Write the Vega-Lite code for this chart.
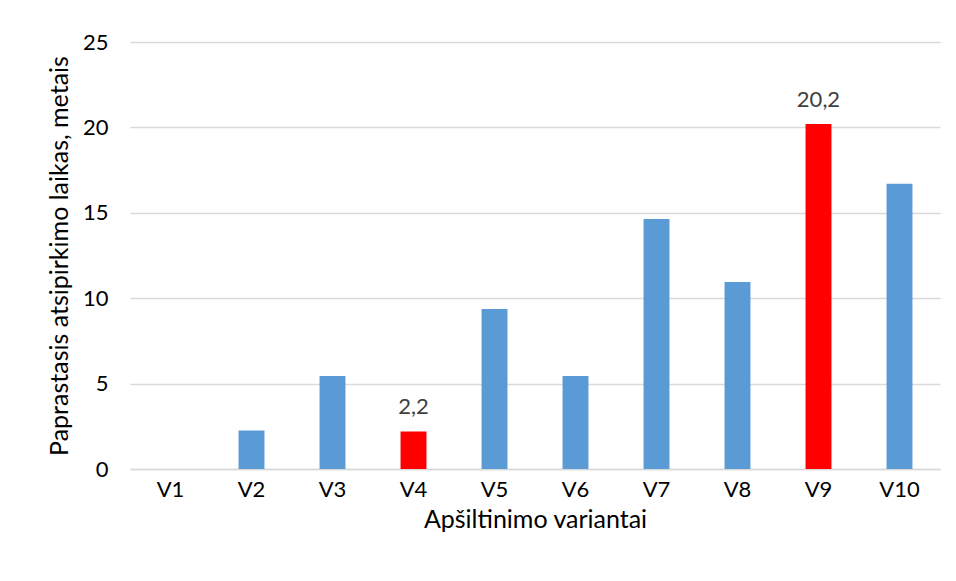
{
  "$schema": "https://vega.github.io/schema/vega-lite/v6.json",
  "width": 810,
  "height": 427,
  "autosize": "none",
  "padding": {"left": 130, "top": 42, "right": 16, "bottom": 112},
  "background": "white",
  "data": {
    "values": [
      {"variantas": "V1", "laikas": 0, "pazymetas": "ne", "zyme": ""},
      {"variantas": "V2", "laikas": 2.25, "pazymetas": "ne", "zyme": ""},
      {"variantas": "V3", "laikas": 5.45, "pazymetas": "ne", "zyme": ""},
      {"variantas": "V4", "laikas": 2.2, "pazymetas": "taip", "zyme": "2,2"},
      {"variantas": "V5", "laikas": 9.37, "pazymetas": "ne", "zyme": ""},
      {"variantas": "V6", "laikas": 5.45, "pazymetas": "ne", "zyme": ""},
      {"variantas": "V7", "laikas": 14.63, "pazymetas": "ne", "zyme": ""},
      {"variantas": "V8", "laikas": 10.95, "pazymetas": "ne", "zyme": ""},
      {"variantas": "V9", "laikas": 20.2, "pazymetas": "taip", "zyme": "20,2"},
      {"variantas": "V10", "laikas": 16.7, "pazymetas": "ne", "zyme": ""}
    ]
  },
  "encoding": {
    "x": {
      "field": "variantas",
      "type": "nominal",
      "sort": null,
      "scale": {"paddingInner": 0.68, "paddingOuter": 0.34},
      "axis": {
        "title": "Apšiltinimo variantai",
        "labelAngle": 0,
        "ticks": false,
        "domainColor": "#D9D9D9",
        "domainWidth": 1.5,
        "labelPadding": 10,
        "titlePadding": 7
      }
    },
    "y": {
      "field": "laikas",
      "type": "quantitative",
      "scale": {"domain": [0, 25]},
      "axis": {
        "title": "Paprastasis atsipirkimo laikas, metais",
        "values": [0, 5, 10, 15, 20, 25],
        "domain": false,
        "ticks": false,
        "gridColor": "#D9D9D9",
        "gridWidth": 1.5,
        "labelPadding": 22,
        "titlePadding": 10
      }
    }
  },
  "layer": [
    {
      "mark": {"type": "bar"},
      "encoding": {
        "color": {
          "field": "pazymetas",
          "type": "nominal",
          "scale": {"domain": ["ne", "taip"], "range": ["#5B9BD5", "#FF0000"]},
          "legend": null
        }
      }
    },
    {
      "mark": {"type": "text", "baseline": "bottom", "dy": -12, "fontSize": 22, "color": "#404040", "font": "Lato"},
      "encoding": {"text": {"field": "zyme"}}
    }
  ],
  "config": {
    "view": {"stroke": null},
    "font": "Lato",
    "axis": {
      "labelFont": "Lato",
      "labelFontSize": 22,
      "labelColor": "#000000",
      "titleFont": "Lato",
      "titleFontSize": 25,
      "titleFontWeight": "normal",
      "titleColor": "#000000"
    }
  }
}
